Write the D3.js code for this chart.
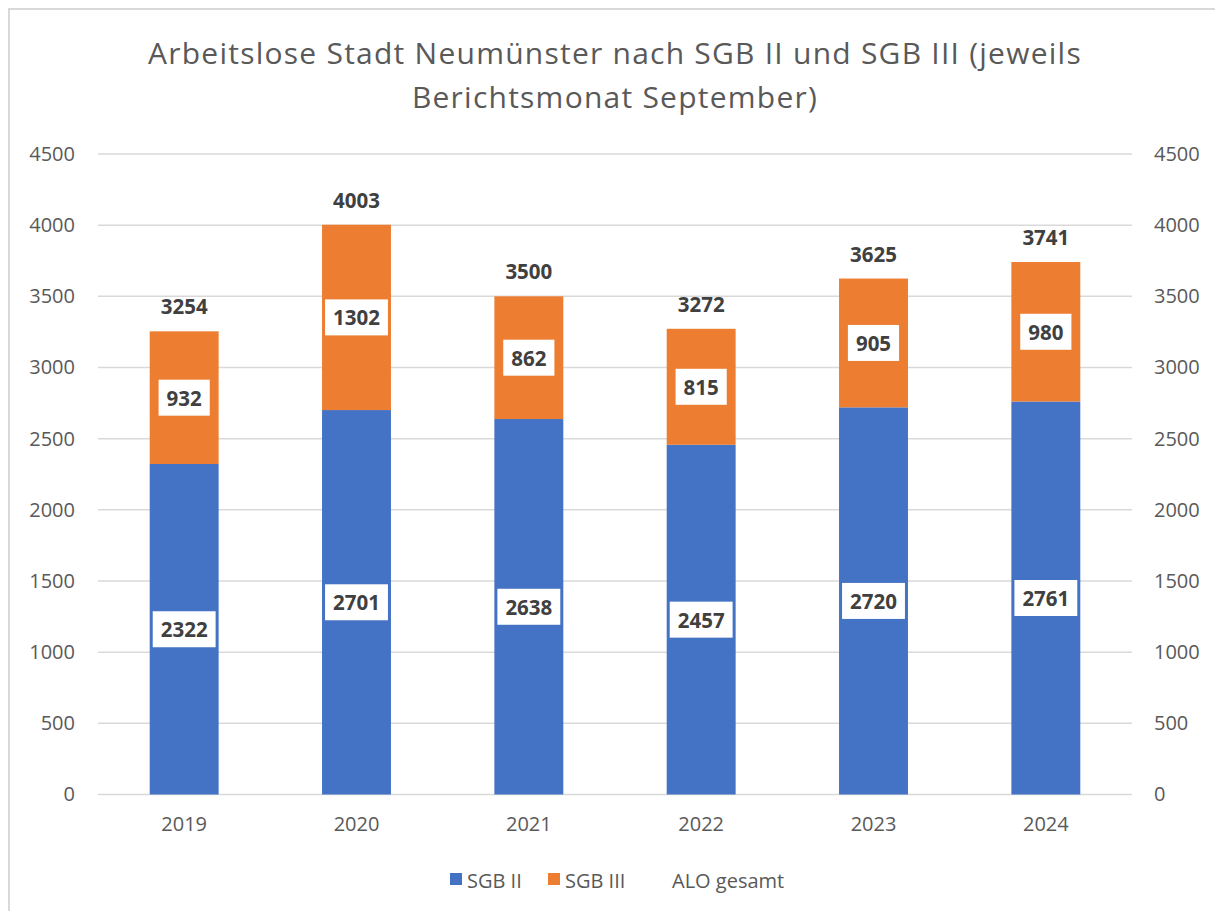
<!DOCTYPE html>
<html><head><meta charset="utf-8">
<script src="https://cdn.jsdelivr.net/npm/d3@7"></script>
<style>
html,body{margin:0;padding:0;background:#fff;}
svg{display:block;font-family:"Open Sans","Noto Sans",sans-serif;}
</style></head>
<body>
<svg id="chart" width="1215" height="911"></svg>
<script>
const years = ["2019","2020","2021","2022","2023","2024"];
const sgb2 = [2322, 2701, 2638, 2457, 2720, 2761];
const sgb3 = [932, 1302, 862, 815, 905, 980];
const aloGesamt = [3254, 4003, 3500, 3272, 3625, 3741];
const yTicks = [0,500,1000,1500,2000,2500,3000,3500,4000,4500];
const titleLines = ["Arbeitslose Stadt Neumünster nach SGB II und SGB III (jeweils", "Berichtsmonat September)"];
const seriesNames = ["SGB II", "SGB III", "ALO gesamt"];
const colors = ["#4472C4", "#ED7D31"];

(function(){
const svg = d3.select("#chart");
svg.append("rect").attr("x",9).attr("y",9).attr("width",1220).attr("height",920)
  .attr("fill","#fff").attr("stroke","#d9d9d9").attr("stroke-width",2);

const pL = 98, pR = 1132, pT = 154, pB = 794.5;
const x = d3.scaleBand().domain(years).range([pL,pR]).paddingInner(0.6).paddingOuter(0.3);
const y = d3.scaleLinear().domain([0,4500]).range([pB, pT]);

// title
const title = svg.append("text").attr("text-anchor","middle").attr("fill","#595959")
  .attr("font-size",30);
const tsp = titleLines.map((t,i)=> title.append("tspan").attr("x",615).attr("y",64 + i*44).text(t));
const w1 = tsp[0].node().getComputedTextLength();
const ls = (934 - w1) / titleLines[0].length;
title.attr("letter-spacing", ls.toFixed(2));

// gridlines
svg.append("g").selectAll("line").data(yTicks).join("line")
  .attr("x1",pL).attr("x2",pR).attr("y1",d=>y(d)).attr("y2",d=>y(d))
  .attr("stroke","#d9d9d9").attr("stroke-width",1.5);

// axes
const fmt = d3.format("d");
const axL = svg.append("g").attr("transform",`translate(${pL},0)`)
  .call(d3.axisLeft(y).tickValues(yTicks).tickFormat(fmt).tickSize(0).tickPadding(23));
const axR = svg.append("g").attr("transform",`translate(${pR},0)`)
  .call(d3.axisRight(y).tickValues(yTicks).tickFormat(fmt).tickSize(0).tickPadding(22));
const axB = svg.append("g").attr("transform",`translate(0,${pB})`)
  .call(d3.axisBottom(x).tickSize(0).tickPadding(22));
[axL,axR,axB].forEach(a=>{
  a.select(".domain").remove();
  a.selectAll("text").attr("font-size",20).attr("fill","#595959").attr("font-family","'Open Sans','Noto Sans',sans-serif");
});

// stacked bars
const rows = years.map((yr,i)=>({year:yr, s2:sgb2[i], s3:sgb3[i], tot:aloGesamt[i]}));
const g = svg.append("g");
g.selectAll("rect.s2").data(rows).join("rect").attr("class","s2")
  .attr("x",d=>x(d.year)).attr("width",x.bandwidth())
  .attr("y",d=>y(d.s2)).attr("height",d=>y(0)-y(d.s2)).attr("fill",colors[0]);
g.selectAll("rect.s3").data(rows).join("rect").attr("class","s3")
  .attr("x",d=>x(d.year)).attr("width",x.bandwidth())
  .attr("y",d=>y(d.s2+d.s3)).attr("height",d=>y(d.s2)-y(d.s2+d.s3)).attr("fill",colors[1]);

// boxed labels
function boxLabel(cx, cy, txt){
  const lg = svg.append("g");
  const t = lg.append("text").attr("x",cx).attr("y",cy).attr("text-anchor","middle")
    .attr("dominant-baseline","central").attr("font-size",20.5).attr("font-weight","bold")
    .attr("fill","#404040").text(txt);
  const w = t.node().getComputedTextLength();
  lg.insert("rect","text").attr("x",cx - w/2 - 8).attr("y",cy-18).attr("width",w+16).attr("height",36)
    .attr("fill","#fff");
}
rows.forEach(d=>{
  const cx = x(d.year)+x.bandwidth()/2;
  boxLabel(cx, y(d.s2/2), d.s2);
  boxLabel(cx, y(d.s2 + d.s3/2), d.s3);
  svg.append("text").attr("x",cx).attr("y",y(d.tot)-25).attr("text-anchor","middle")
    .attr("dominant-baseline","central").attr("font-size",20.5).attr("font-weight","bold")
    .attr("fill","#404040").text(d.tot);
});

// legend
const leg = svg.append("g");
const legItems = [
  {name:seriesNames[0], color:colors[0], sx:450, tx:467},
  {name:seriesNames[1], color:colors[1], sx:548, tx:565},
  {name:seriesNames[2], color:null, sx:null, tx:672}
];
legItems.forEach(it=>{
  if(it.color) leg.append("rect").attr("x",it.sx).attr("y",873).attr("width",12).attr("height",12).attr("fill",it.color);
  leg.append("text").attr("x",it.tx).attr("y",880).attr("dominant-baseline","central")
    .attr("font-size",20).attr("fill","#595959").text(it.name);
});
})();
</script>
</body></html>
